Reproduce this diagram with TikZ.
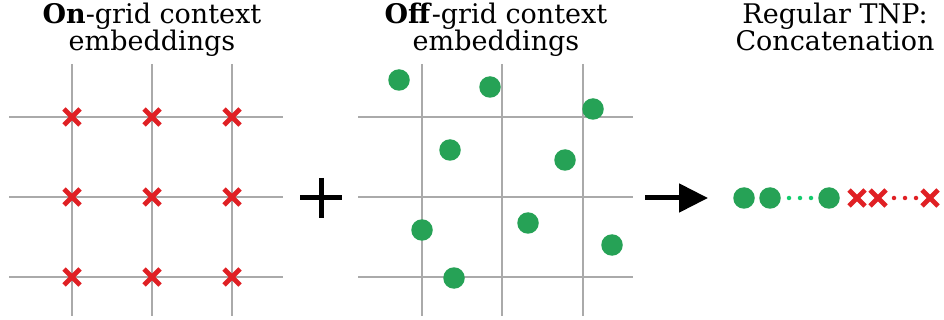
\documentclass[tikz,border=0pt]{standalone}
\usepackage{fontspec}
\setmainfont{DejaVu Serif}
\usetikzlibrary{arrows.meta}

\definecolor{crossred}{RGB}{224,32,36}
\definecolor{dotgreen}{RGB}{38,162,86}
\definecolor{linkgreen}{RGB}{20,204,110}
\definecolor{gridgray}{RGB}{170,170,170}

\begin{document}
\begin{tikzpicture}[x=1pt,y=-1pt]
        % Define styles
        \tikzset{
            gridline/.style={gridgray, line width=1.1pt},
            crossmark/.style={crossred, line width=4.8pt},
            embdot/.style={circle, fill=dotgreen, inner sep=0pt, minimum size=21.5pt},
            seqlink/.style={line width=4.5pt, line cap=round, dash pattern=on 0pt off 11pt},
            heading/.style={align=center, font=\fontsize{27}{27.5}\selectfont, inner sep=0pt}
        }
        \useasboundingbox (0,0) rectangle (944,320);
        % Headings (base anchor sits on the second line)
        \node[heading, anchor=base] (ontitle) at (152,51) {\textbf{On}-grid context\\embeddings};
        \node[heading, anchor=base] (offtitle) at (496,51) {\textbf{Off}-grid context\\embeddings};
        \node[heading, anchor=base] (tnptitle) at (835,51) {Regular TNP:\\Concatenation};
        % On-grid: lines with crosses at every crossing
        \foreach \x in {72,152,232} \draw[gridline] (\x,64) -- (\x,316);
        \foreach \y in {117,197,277} \draw[gridline] (9,\y) -- (283,\y);
        \foreach \x in {72,152,232}
            \foreach \y in {117,197,277}
                \draw[crossmark] (\x-8,\y-8) -- (\x+8,\y+8) (\x-8,\y+8) -- (\x+8,\y-8);
        % Plus sign
        \draw[line width=5pt] (300,198) -- (342,198) (321,178) -- (321,218);
        % Off-grid: same lines, points scattered freely
        \foreach \x in {422,502,583} \draw[gridline] (\x,64) -- (\x,316);
        \foreach \y in {117,197,277} \draw[gridline] (358,\y) -- (633,\y);
        \node[embdot] (p1) at (399,80) {};
        \node[embdot] (p2) at (490,87) {};
        \node[embdot] (p3) at (593,109) {};
        \node[embdot] (p4) at (450,150) {};
        \node[embdot] (p5) at (565,160) {};
        \node[embdot] (p6) at (528,223) {};
        \node[embdot] (p7) at (422,230) {};
        \node[embdot] (p8) at (612,245) {};
        \node[embdot] (p9) at (454,278) {};
        % Arrow to the concatenated sequence
        \coordinate (arrtail) at (645,198);
        \coordinate (arrhead) at (708,198);
        \draw[-{Triangle[length=29pt,width=28pt]}, line width=5pt] (arrtail) -- (arrhead);
        % Concatenated sequence: points first, then crosses
        \node[embdot] (s1) at (744,198) {};
        \node[embdot] (s2) at (770,198) {};
        \node[embdot] (s3) at (829,198) {};
        \draw[seqlink, linkgreen] (789,198) -- (811.5,198);
        \foreach \x in {857,878,930}
            \draw[crossmark] (\x-8,190) -- (\x+8,206) (\x-8,206) -- (\x+8,190);
        \draw[seqlink, crossred] (894,198) -- (916.5,198);
\end{tikzpicture}
\end{document}
